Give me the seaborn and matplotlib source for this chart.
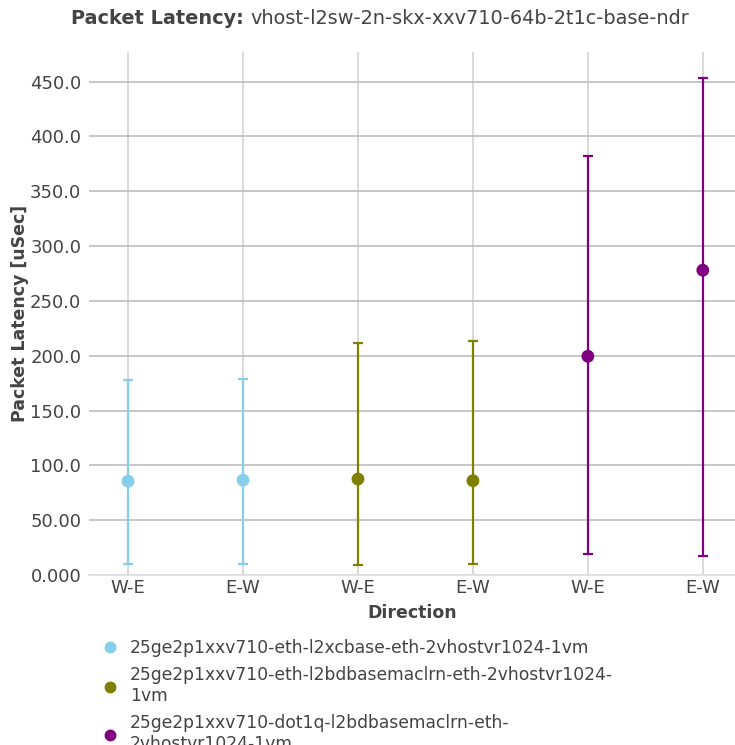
import numpy as np
import pandas as pd
import matplotlib
matplotlib.use("Agg")
import matplotlib.pyplot as plt
import seaborn as sns

# data
series_names = [
    "25ge2p1xxv710-eth-l2xcbase-eth-2vhostvr1024-1vm",
    "25ge2p1xxv710-eth-l2bdbasemaclrn-eth-2vhostvr1024-\n1vm",
    "25ge2p1xxv710-dot1q-l2bdbasemaclrn-eth-\n2vhostvr1024-1vm",
]
series_colors = ["#87ceeb", "#808000", "#800080"]
directions = ["W-E", "E-W", "W-E", "E-W", "W-E", "E-W"]
positions = [0, 1, 2, 3, 4, 5]
series_idx = [0, 0, 1, 1, 2, 2]
lat_avg = [85.5, 86.5, 87.5, 86.0, 199.5, 278.0]
lat_min = [10.0, 10.0, 9.0, 10.0, 19.0, 17.0]
lat_max = [178.0, 179.0, 212.0, 213.5, 382.0, 453.5]
ytick_vals = [0, 50, 100, 150, 200, 250, 300, 350, 400, 450]
ytick_labels = ["0.000", "50.00", "100.0", "150.0", "200.0", "250.0",
                "300.0", "350.0", "400.0", "450.0"]

df = pd.DataFrame({
    "pos": positions,
    "direction": directions,
    "series": [series_names[i] for i in series_idx],
    "avg": lat_avg,
    "lo": lat_min,
    "hi": lat_max,
})

sns.set_theme(style="whitegrid")
plt.rcParams["font.family"] = ["DejaVu Sans"]
text_col = "#444444"

fig = plt.figure(figsize=(7.35, 7.45), dpi=100)
ax = fig.add_axes([89 / 735, 170 / 745, 646 / 735, 523 / 745])

# error bars, one series at a time
for name, color in zip(series_names, series_colors):
    sub = df[df["series"] == name]
    ax.errorbar(sub["pos"], sub["avg"],
                yerr=[sub["avg"] - sub["lo"], sub["hi"] - sub["avg"]],
                fmt="none", ecolor=color, elinewidth=1.6, capsize=3.5,
                capthick=1.6, zorder=3)

sns.scatterplot(data=df, x="pos", y="avg", hue="series",
                hue_order=series_names, palette=series_colors,
                s=85, edgecolor="none", ax=ax, zorder=4, legend=False)

ax.set_xlim(-0.34, 5.28)
ax.set_ylim(0, 477)
ax.set_xticks(positions)
ax.set_xticklabels(directions)
ax.set_yticks(ytick_vals)
ax.set_yticklabels(ytick_labels)
ax.tick_params(axis="both", labelsize=13, colors=text_col, length=0, pad=3)
ax.tick_params(axis="y", length=5, color="#444444", width=1, pad=0.5)
ax.grid(axis="y", color="#bdbdbd", linewidth=1.2)
ax.grid(axis="x", color="#d3d3d3", linewidth=1.2)
for s in ["top", "right", "left"]:
    ax.spines[s].set_visible(False)
ax.spines["bottom"].set_color("#e0e0e0")
ax.set_facecolor("white")

ax.set_xlabel("Direction", fontsize=12.5, fontweight="bold", color=text_col, labelpad=5)
ax.set_ylabel("Packet Latency [uSec]", fontsize=12.5, fontweight="bold", color=text_col, labelpad=1)

fig.text(244 / 735, 1 - 18 / 745, "Packet Latency:", ha="right", va="center",
         fontsize=13.9, fontweight="bold", color=text_col)
fig.text(250 / 735, 1 - 18 / 745, "vhost-l2sw-2n-skx-xxv710-64b-2t1c-base-ndr",
         ha="left", va="center", fontsize=13.9, color=text_col)

handles = [plt.Line2D([], [], marker="o", linestyle="none", color=c,
                      markersize=7.5) for c in series_colors]
fig.legend(handles, series_names, loc="upper left",
           bbox_to_anchor=(93 / 735, 1 - 632 / 745), frameon=False,
           fontsize=12.3, labelcolor=text_col, handletextpad=0.55,
           handlelength=1.2, labelspacing=0.55, borderaxespad=0)

fig.savefig("out.png", dpi=100)
